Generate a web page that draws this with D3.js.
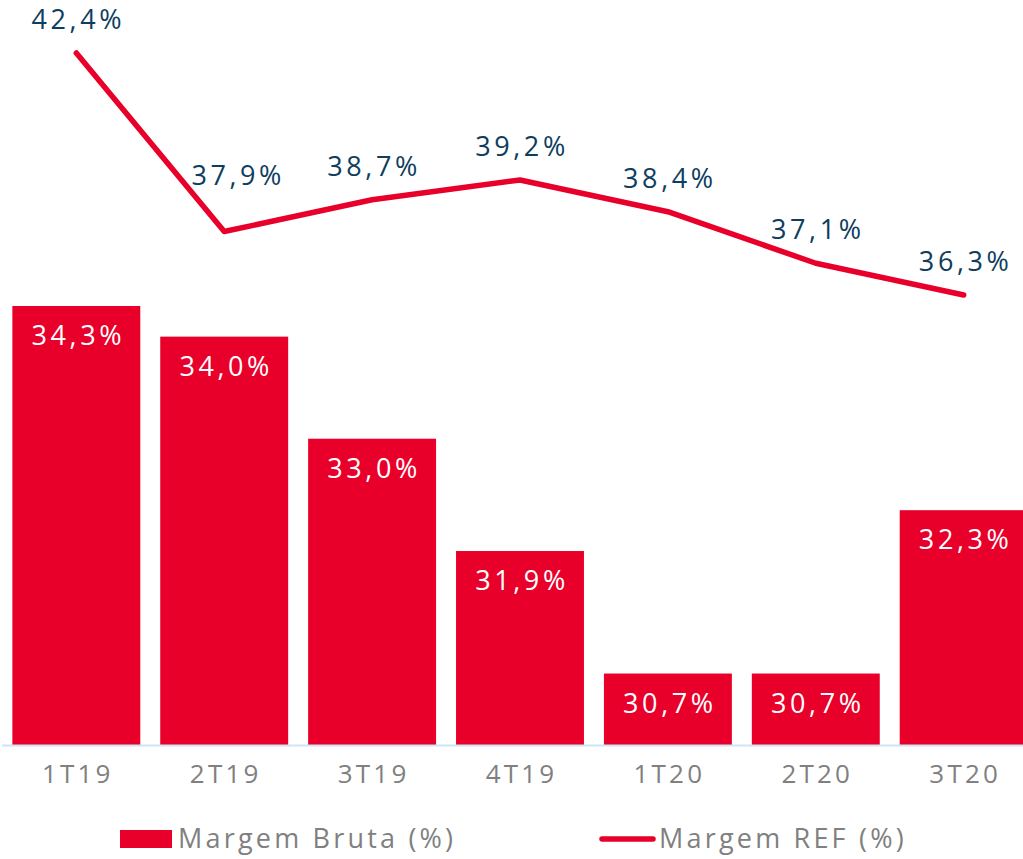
<!DOCTYPE html>
<html>
<head>
<meta charset="utf-8">
<script src="https://cdn.jsdelivr.net/npm/d3@7"></script>
<style>
  body { margin: 0; background: #fff; }
  text { font-family: "Open Sans", sans-serif; }
</style>
</head>
<body>
<script>
// dados
const categories = ['1T19', '2T19', '3T19', '4T19', '1T20', '2T20', '3T20']
const margemBruta = [34.3, 34.0, 33.0, 31.9, 30.7, 30.7, 32.3]
const margemRef = [42.4, 37.9, 38.7, 39.2, 38.4, 37.1, 36.3]
const legendLabels = ['Margem Bruta (%)', 'Margem REF (%)']

const red = '#e8002b'
const width = 1023, height = 859
const fmt = v => v.toFixed(1).replace('.', ',') + '%'

let svg = d3.select('body').append('svg')
    .attr('width', width)
    .attr('height', height)

// eixo x
let x = d3.scaleBand()
    .domain(categories)
    .range([2, 1038])
    .paddingInner(0.135)
    .paddingOuter(0.07)

// eixo y barras (30% na base)
let y = d3.scaleLinear()
    .domain([30, 34.3])
    .range([745, 306])

// eixo y linha
let y2 = d3.scaleLinear()
    .domain([36.3, 42.4])
    .range([295, 53])

// barras
svg.selectAll('rect.bar')
    .data(categories)
    .join('rect')
    .attr('class', 'bar')
    .attr('x', d => x(d))
    .attr('y', (d, i) => y(margemBruta[i]))
    .attr('width', x.bandwidth())
    .attr('height', (d, i) => y(30) - y(margemBruta[i]))
    .attr('fill', red)

svg.selectAll('text.barLabel')
    .data(categories)
    .join('text')
    .attr('class', 'barLabel')
    .attr('x', d => x(d) + x.bandwidth() / 2 + 2)
    .attr('y', (d, i) => y(margemBruta[i]) + 39)
    .attr('text-anchor', 'middle')
    .attr('fill', '#fff')
    .attr('font-size', 27)
    .attr('letter-spacing', 3.6)
    .text((d, i) => fmt(margemBruta[i]))

// linha base
svg.append('line')
    .attr('x1', 2).attr('x2', width)
    .attr('y1', 745.5).attr('y2', 745.5)
    .attr('stroke', '#cde6f6')
    .attr('stroke-width', 2)

// rótulos do eixo x
svg.append('g')
    .attr('transform', 'translate(0,745)')
    .call(d3.axisBottom(x).tickSize(0).tickPadding(20))
    .call(g => g.select('.domain').remove())
    .selectAll('text')
    .attr('font-size', 26)
    .attr('fill', '#808080')
    .attr('dx', 1.5)
    .attr('letter-spacing', 3.2)
    .style('font-family', '"Open Sans", sans-serif')

// linha Margem REF
let line = d3.line()
    .x((d, i) => x(categories[i]) + x.bandwidth() / 2)
    .y(d => y2(d))

svg.append('path')
    .datum(margemRef)
    .attr('d', line)
    .attr('fill', 'none')
    .attr('stroke', red)
    .attr('stroke-width', 5.5)
    .attr('stroke-linecap', 'round')
    .attr('stroke-linejoin', 'round')

// rótulo do 2T19 fica mais acima (vale da linha)
svg.selectAll('text.lineLabel')
    .data(margemRef)
    .join('text')
    .attr('class', 'lineLabel')
    .attr('x', (d, i) => x(categories[i]) + x.bandwidth() / 2 + 2 + (i == 1 ? 12 : 0))
    .attr('y', (d, i) => y2(d) - (i == 1 ? 47 : 24))
    .attr('text-anchor', 'middle')
    .attr('fill', '#0e3d5e')
    .attr('font-size', 27)
    .attr('letter-spacing', 3.6)
    .text(d => fmt(d))

// legenda
let leg = svg.append('g')
leg.append('rect')
    .attr('x', 120).attr('y', 830)
    .attr('width', 52).attr('height', 18)
    .attr('fill', red)
leg.append('text')
    .attr('x', 178).attr('y', 848)
    .attr('font-size', 27)
    .attr('fill', '#808080')
    .attr('letter-spacing', 3.2)
    .text(legendLabels[0])
leg.append('line')
    .attr('x1', 602).attr('x2', 653)
    .attr('y1', 839).attr('y2', 839)
    .attr('stroke', red)
    .attr('stroke-width', 5.5)
    .attr('stroke-linecap', 'round')
leg.append('text')
    .attr('x', 659).attr('y', 848)
    .attr('font-size', 27)
    .attr('fill', '#808080')
    .attr('letter-spacing', 3.2)
    .text(legendLabels[1])
</script>
</body>
</html>
